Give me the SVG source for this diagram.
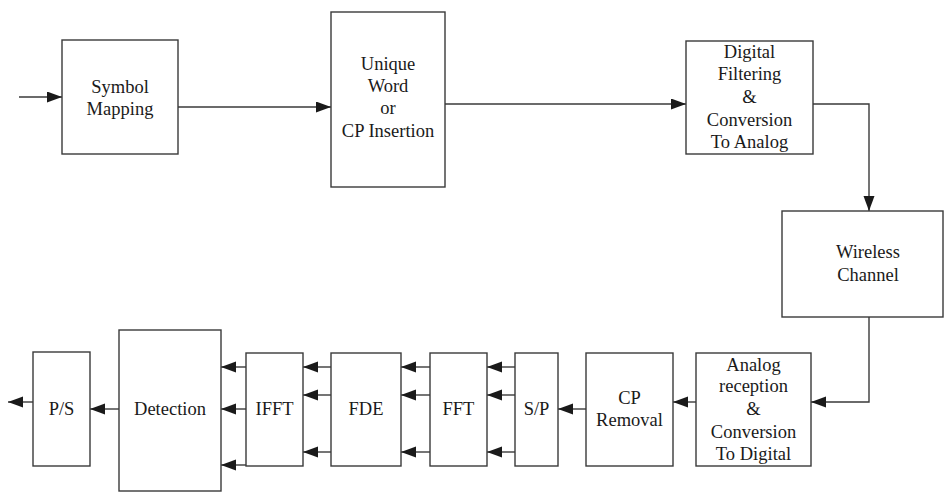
<svg xmlns="http://www.w3.org/2000/svg" width="944" height="492" viewBox="0 0 944 492">
<style>
.box{fill:#fff;stroke:#3a3a3a;stroke-width:1.4}
.t{font-family:'Liberation Serif','DejaVu Serif',serif;font-size:18.5px;fill:#1a1a1a;text-anchor:middle}
.c{fill:none;stroke:#3a3a3a;stroke-width:1.4}
</style>
<defs>
<marker id="ah" markerUnits="userSpaceOnUse" markerWidth="16" markerHeight="12" refX="15" refY="5.5" orient="auto">
<path d="M0,0 L15,5.5 L0,11 z" fill="#1a1a1a"/>
</marker>
</defs>
<rect width="944" height="492" fill="#fff"/>
<g id="connectors">
<path class="c" d="M19,97 H62" marker-end="url(#ah)"/>
<path class="c" d="M178,107 H331" marker-end="url(#ah)"/>
<path class="c" d="M445,104 H686" marker-end="url(#ah)"/>
<path class="c" d="M813,104 H869 V211" marker-end="url(#ah)"/>
<path class="c" d="M869,317 V402 H811" marker-end="url(#ah)"/>
<path class="c" d="M696,402 H673" marker-end="url(#ah)"/>
<path class="c" d="M586,409 H558" marker-end="url(#ah)"/>
<path class="c" d="M515,367 H487" marker-end="url(#ah)"/>
<path class="c" d="M515,395 H487" marker-end="url(#ah)"/>
<path class="c" d="M515,452 H487" marker-end="url(#ah)"/>
<path class="c" d="M430,367 H401" marker-end="url(#ah)"/>
<path class="c" d="M430,395 H401" marker-end="url(#ah)"/>
<path class="c" d="M430,452 H401" marker-end="url(#ah)"/>
<path class="c" d="M331,367 H303" marker-end="url(#ah)"/>
<path class="c" d="M331,395 H303" marker-end="url(#ah)"/>
<path class="c" d="M331,452 H303" marker-end="url(#ah)"/>
<path class="c" d="M246,367 H221" marker-end="url(#ah)"/>
<path class="c" d="M246,409 H221" marker-end="url(#ah)"/>
<path class="c" d="M246,465 H221" marker-end="url(#ah)"/>
<path class="c" d="M119,409 H90" marker-end="url(#ah)"/>
<path class="c" d="M33,402 H8" marker-end="url(#ah)"/>
</g>
<g id="symbol-mapping">
<rect class="box" x="62" y="40" width="116" height="114"/>
<text class="t" x="120" y="93">Symbol</text>
<text class="t" x="120" y="115">Mapping</text>
</g>
<g id="unique-word">
<rect class="box" x="331" y="12" width="114" height="175"/>
<text class="t" x="388" y="70">Unique</text>
<text class="t" x="388" y="92">Word</text>
<text class="t" x="388" y="114">or</text>
<text class="t" x="388" y="137">CP Insertion</text>
</g>
<g id="digital-filtering">
<rect class="box" x="686" y="41" width="127" height="113"/>
<text class="t" x="749.5" y="58">Digital</text>
<text class="t" x="749.5" y="80">Filtering</text>
<text class="t" x="749.5" y="103">&amp;</text>
<text class="t" x="749.5" y="126">Conversion</text>
<text class="t" x="749.5" y="148">To Analog</text>
</g>
<g id="wireless-channel">
<rect class="box" x="782" y="211" width="161" height="106"/>
<text class="t" x="868" y="258">Wireless</text>
<text class="t" x="868" y="281">Channel</text>
</g>
<g id="analog-reception">
<rect class="box" x="696" y="353" width="115" height="113"/>
<text class="t" x="753.5" y="371">Analog</text>
<text class="t" x="753.5" y="392">reception</text>
<text class="t" x="753.5" y="415">&amp;</text>
<text class="t" x="753.5" y="438">Conversion</text>
<text class="t" x="753.5" y="460">To Digital</text>
</g>
<g id="cp-removal">
<rect class="box" x="586" y="353" width="87" height="113"/>
<text class="t" x="629.5" y="404">CP</text>
<text class="t" x="629.5" y="426">Removal</text>
</g>
<g id="sp">
<rect class="box" x="515" y="353" width="43" height="113"/>
<text class="t" x="536.5" y="415">S/P</text>
</g>
<g id="fft">
<rect class="box" x="430" y="353" width="57" height="113"/>
<text class="t" x="458.5" y="415">FFT</text>
</g>
<g id="fde">
<rect class="box" x="331" y="353" width="70" height="113"/>
<text class="t" x="366" y="415">FDE</text>
</g>
<g id="ifft">
<rect class="box" x="246" y="353" width="57" height="113"/>
<text class="t" x="274.5" y="415">IFFT</text>
</g>
<g id="detection">
<rect class="box" x="119" y="330" width="102" height="161"/>
<text class="t" x="170" y="415">Detection</text>
</g>
<g id="ps">
<rect class="box" x="33" y="352" width="57" height="114"/>
<text class="t" x="61.5" y="415">P/S</text>
</g>
</svg>
